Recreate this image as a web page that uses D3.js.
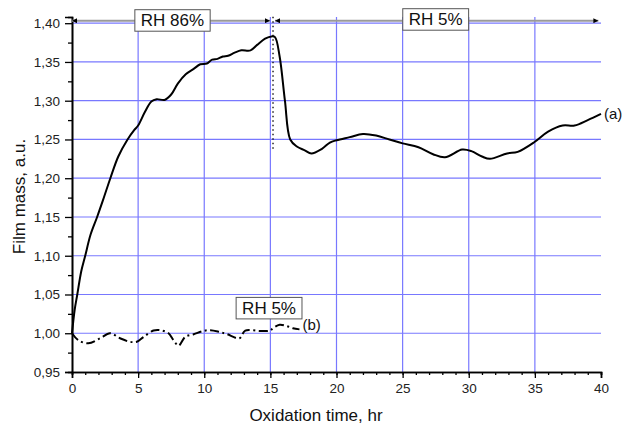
<!DOCTYPE html>
<html>
<head>
<meta charset="utf-8">
<script src="https://cdn.jsdelivr.net/npm/d3@7"></script>
<style>
  body { margin: 0; background: #fff; }
  svg { font-family: 'Liberation Sans', Arial, sans-serif; }
</style>
</head>
<body>
<svg class="massChart"></svg>
<script>
'use strict';

// curve (a): RH 86% then RH 5%
var timeA = [0, 0.2, 0.4, 0.7, 1.0, 1.4, 1.9, 2.35, 2.9, 3.5, 4.2, 4.7, 5.0, 5.5, 6.0, 6.4, 7.0, 7.5, 8.0, 8.6,
  9.2, 9.7, 10.2, 10.6, 11.0, 11.4, 11.8, 12.3, 12.8, 13.5, 14.0, 14.6, 15.1, 15.35, 15.7, 16.1, 16.5, 17.0,
  17.6, 18.1, 18.9, 19.5, 20.0, 21.0, 22.0, 23.0, 24.0, 25.0, 26.2, 27.3, 28.2, 29.5, 30.2, 31.0, 31.6, 32.9,
  33.7, 35.0, 36.0, 37.1, 38.0, 39.0, 40.0];
var massA = [1.000, 1.030, 1.050, 1.080, 1.100, 1.127, 1.150, 1.172, 1.200, 1.228, 1.250, 1.262, 1.268, 1.285,
  1.299, 1.302, 1.301, 1.308, 1.322, 1.334, 1.341, 1.347, 1.348, 1.353, 1.354, 1.357, 1.358, 1.362, 1.365,
  1.365, 1.372, 1.380, 1.383, 1.382, 1.357, 1.300, 1.250, 1.241, 1.236, 1.232, 1.238, 1.246, 1.249, 1.253,
  1.257, 1.255, 1.250, 1.245, 1.240, 1.231, 1.227, 1.237, 1.235, 1.228, 1.225, 1.232, 1.234, 1.247, 1.260,
  1.268, 1.268, 1.275, 1.283];

// curve (b): RH 5% all the time
var timeB = [0, 0.48, 1.23, 2.12, 2.87, 3.63, 4.38, 4.9, 5.4, 6.16, 6.67, 7.3, 7.68, 8.06, 8.57, 9.2, 9.95,
  10.46, 11.1, 11.7, 12.66, 13.1, 14.2, 14.97, 15.2, 15.7, 16.2, 16.7, 17.2];
var massB = [1.000, 0.991, 0.987, 0.9935, 1.000, 0.9935, 0.989, 0.989, 0.995, 1.0035, 1.004, 1.000, 0.991,
  0.984, 0.9955, 0.9987, 1.003, 1.004, 1.002, 0.999, 0.9935, 1.0035, 1.003, 1.0035, 1.0065, 1.011, 1.0095,
  1.0065, 1.005];

var xTicks = [0, 5, 10, 15, 20, 25, 30, 35, 40];
var yTicks = [0.95, 1.00, 1.05, 1.10, 1.15, 1.20, 1.25, 1.30, 1.35, 1.40];
var xGrid = [5, 10, 15, 20, 25, 30, 35];
var yGrid = [1.00, 1.05, 1.10, 1.15, 1.20, 1.25, 1.30, 1.35, 1.40];

// humidity phases: [start, end, label, label position]
var phases = [
  { from: 0, to: 14.97, label: 'RH 86%', at: 7.6 },
  { from: 15.35, to: 39.8, label: 'RH 5%', at: 27.5 }
];
var switchTime = 15.2;
var switchLow = 1.234;

function init () {
  var margin = { top: 17, right: 23, bottom: 54, left: 72 };
  var width = 624 - margin.left - margin.right;
  var height = 426 - margin.top - margin.bottom;

  var x = d3.scaleLinear().domain([0, 40]).range([0, width]);
  var y = d3.scaleLinear().domain([0.95, 1.408]).range([height, 0]);

  var root = d3.select('.massChart')
    .attr('width', 624)
    .attr('height', 426);

  var defs = root.append('defs');
  defs.append('marker')
    .attr('id', 'head')
    .attr('viewBox', '0 0 10 10')
    .attr('refX', 10)
    .attr('refY', 5)
    .attr('markerWidth', 7)
    .attr('markerHeight', 5)
    .attr('markerUnits', 'userSpaceOnUse')
    .attr('orient', 'auto-start-reverse')
    .append('path')
    .attr('d', 'M0,0L10,5L0,10Z')
    .attr('fill', '#000');

  var svg = root.append('g')
    .attr('transform', 'translate(' + margin.left + ',' + margin.top + ')');

  // grid
  svg.selectAll('.vgrid')
    .data(xGrid)
    .enter()
    .append('line')
    .attr('x1', function (d) { return x(d); })
    .attr('x2', function (d) { return x(d); })
    .attr('y1', 0)
    .attr('y2', height)
    .attr('stroke', '#7878ff')
    .attr('stroke-width', 1.2);

  svg.selectAll('.hgrid')
    .data(yGrid)
    .enter()
    .append('line')
    .attr('x1', 0)
    .attr('x2', width)
    .attr('y1', function (d) { return y(d); })
    .attr('y2', function (d) { return y(d); })
    .attr('stroke', '#7878ff')
    .attr('stroke-width', 1.2);

  // axes
  var fmt = function (d) { return d3.format('.2f')(d).replace('.', ','); };

  var xAxis = svg.append('g')
    .attr('transform', 'translate(0,' + height + ')')
    .call(d3.axisBottom(x).tickValues(xTicks).tickSize(6).tickPadding(5));
  svg.append('g')
    .attr('transform', 'translate(0,' + height + ')')
    .call(d3.axisBottom(x).tickValues(d3.range(0, 41, 1)).tickSize(3).tickFormat(''));

  var yAxis = svg.append('g')
    .call(d3.axisLeft(y).tickValues(yTicks).tickSize(7).tickPadding(5).tickFormat(fmt));
  svg.append('g')
    .call(d3.axisLeft(y).tickValues(d3.range(0.975, 1.40, 0.05)).tickSize(4).tickFormat(''));

  svg.selectAll('.domain').attr('stroke-width', 1.6).attr('stroke', '#000');
  svg.selectAll('.tick line').attr('stroke-width', 1.3);
  svg.selectAll('.tick text').attr('font-size', '13.5px').attr('fill', '#222');

  // humidity arrows and boxes
  var arrowY = y(1.40) - 2.5;
  phases.forEach(function (p) {
    svg.append('line')
      .attr('x1', x(p.from))
      .attr('x2', x(p.to))
      .attr('y1', arrowY)
      .attr('y2', arrowY)
      .attr('stroke', '#9a9a9a')
      .attr('stroke-width', 2)
      .attr('marker-start', 'url(#head)')
      .attr('marker-end', 'url(#head)');
  });

  function labelBox (cx, cy, txt) {
    var g = svg.append('g');
    var t = g.append('text')
      .attr('x', cx)
      .attr('y', cy + 6)
      .attr('text-anchor', 'middle')
      .attr('font-size', '17px')
      .attr('fill', '#111')
      .text(txt);
    var w = t.node().getComputedTextLength() + 12;
    g.insert('rect', 'text')
      .attr('x', cx - w / 2)
      .attr('y', cy - 10.5)
      .attr('width', w)
      .attr('height', 21.5)
      .attr('fill', '#fff')
      .attr('stroke', '#555')
      .attr('stroke-width', 1);
  }

  labelBox(x(phases[0].at), arrowY - 0.5, phases[0].label);
  labelBox(x(phases[1].at), arrowY - 1.5, phases[1].label);
  labelBox(x(14.9), y(1.0327), 'RH 5%');

  // switch marker
  svg.append('line')
    .attr('x1', x(switchTime))
    .attr('x2', x(switchTime))
    .attr('y1', arrowY - 4)
    .attr('y2', y(switchLow))
    .attr('stroke', '#000')
    .attr('stroke-width', 1.3)
    .attr('stroke-dasharray', '1.5,3');

  // curves
  var line = d3.line()
    .x(function (d) { return x(d[0]); })
    .y(function (d) { return y(d[1]); })
    .curve(d3.curveCatmullRom.alpha(0.5));

  var dataA = d3.zip(timeA, massA);
  var dataB = d3.zip(timeB, massB);

  svg.append('path')
    .datum(dataB)
    .attr('d', line)
    .attr('fill', 'none')
    .attr('stroke', '#000')
    .attr('stroke-width', 2)
    .attr('stroke-dasharray', '9,3.5,2,3.5');

  svg.append('path')
    .datum(dataA)
    .attr('d', line)
    .attr('fill', 'none')
    .attr('stroke', '#000')
    .attr('stroke-width', 2);

  svg.append('text')
    .attr('x', x(40) + 3)
    .attr('y', y(massA[massA.length - 1]) + 5)
    .attr('font-size', '15px')
    .attr('fill', '#111')
    .text('(a)');

  svg.append('text')
    .attr('x', x(timeB[timeB.length - 1]) + 3)
    .attr('y', y(massB[massB.length - 1]) + 1)
    .attr('font-size', '15px')
    .attr('fill', '#111')
    .text('(b)');

  // axis titles
  root.append('text')
    .attr('x', 316)
    .attr('y', 421)
    .attr('text-anchor', 'middle')
    .attr('font-size', '17px')
    .attr('fill', '#111')
    .text('Oxidation time, hr');

  root.append('text')
    .attr('transform', 'translate(25,' + (margin.top + height / 2 + 2) + ') rotate(-90)')
    .attr('text-anchor', 'middle')
    .attr('font-size', '17px')
    .attr('fill', '#111')
    .text('Film mass, a.u.');
}

window.addEventListener('load', init);
</script>
</body>
</html>
